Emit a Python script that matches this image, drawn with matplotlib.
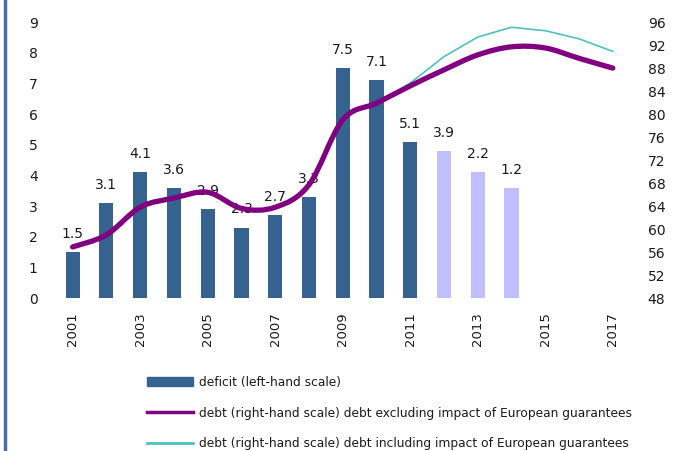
import matplotlib.pyplot as plt
import numpy as np
from matplotlib.path import Path
from matplotlib.patches import PathPatch
from matplotlib.lines import Line2D

# --- data ---
years = list(range(2001, 2018))
bar_years = list(range(2001, 2015))
# bar heights as drawn (left scale); the projected bars are drawn taller than their labels
bar_height = [1.5, 3.1, 4.1, 3.6, 2.9, 2.3, 2.7, 3.3, 7.5, 7.1, 5.1, 4.8, 4.1, 3.6]
deficit_label = [1.5, 3.1, 4.1, 3.6, 2.9, 2.3, 2.7, 3.3, 7.5, 7.1, 5.1, 3.9, 2.2, 1.2]
deficit_forecast_from = 2012   # bars from this year on are projections
debt_excl = [56.9, 59.0, 63.8, 65.4, 66.4, 63.6, 63.8, 67.7, 79.0, 81.9,
             84.9, 87.7, 90.3, 91.7, 91.5, 89.7, 88.0]
debt_incl_years = list(range(2010, 2018))
debt_incl = [81.9, 85.4, 90.0, 93.4, 95.1, 94.5, 93.1, 90.9]

left_ticks = list(range(0, 10))
right_ticks = list(range(48, 97, 4))

bar_dark = '#36628F'
bar_light = '#C0BEFF'
purple = '#800080'
teal = '#4CC2BE'
txt = '#1a1a1a'

fig = plt.figure(figsize=(6.8, 4.51), dpi=100)
ax = fig.add_axes([0.082, 0.339, 0.844, 0.612])
ax2 = ax.twinx()

# bars with value labels
colors = [bar_dark if y < deficit_forecast_from else bar_light for y in bar_years]
bars = ax.bar(bar_years, bar_height, width=0.42, color=colors, zorder=2)
for b, v in zip(bars, deficit_label):
    ax.annotate(f'{v:.1f}', (b.get_x() + b.get_width() / 2, b.get_height()),
                xytext=(0, 8), textcoords='offset points', ha='center',
                va='bottom', fontsize=10, color=txt, zorder=1)

# smoothed debt line (Bezier path through the data points)
x = np.array(years, dtype=float)
y = np.array(debt_excl, dtype=float)
verts = [(x[0], y[0])]
codes = [Path.MOVETO]
for i in range(len(x) - 1):
    p0 = np.array([x[max(i - 1, 0)], y[max(i - 1, 0)]])
    p1 = np.array([x[i], y[i]])
    p2 = np.array([x[i + 1], y[i + 1]])
    p3 = np.array([x[min(i + 2, len(x) - 1)], y[min(i + 2, len(x) - 1)]])
    c1 = p1 + (p2 - p0) / 6
    c2 = p2 - (p3 - p1) / 6
    verts += [tuple(c1), tuple(c2), tuple(p2)]
    codes += [Path.CURVE4] * 3
ax2.add_patch(PathPatch(Path(verts, codes), facecolor='none', edgecolor=purple,
                        lw=3.8, capstyle='round', zorder=3))
ax2.plot(debt_incl_years, debt_incl, color=teal, lw=1.2, zorder=2)

# axes styling
ax.set_xlim(2000.5, 2017.5)
ax.set_ylim(0, 9)
ax2.set_ylim(48, 96)
ax.set_yticks(left_ticks)
ax2.set_yticks(right_ticks)
ax.set_xticks(years[::2])
ax.set_xticklabels([str(y) for y in years[::2]], rotation=90, fontsize=9.5, color=txt)
ax.tick_params(axis='both', length=0)
ax.tick_params(axis='y', labelsize=10, labelcolor=txt, pad=13)
ax.tick_params(axis='x', pad=10)
ax2.tick_params(axis='y', length=0, labelsize=10, labelcolor=txt, pad=13)
for a in (ax, ax2):
    for s in a.spines.values():
        s.set_visible(False)

# legend below the plot
handles = [plt.Rectangle((0, 0), 1, 1, color=bar_dark),
           Line2D([], [], color=purple, lw=2.5),
           Line2D([], [], color=teal, lw=2)]
labels = ['deficit (left-hand scale)',
          'debt (right-hand scale) debt excluding impact of European guarantees',
          'debt (right-hand scale) debt including impact of European guarantees']
fig.legend(handles, labels, loc='upper left', bbox_to_anchor=(0.216, 0.166),
           frameon=False, fontsize=8.8, handlelength=3.8, handleheight=0.75,
           handletextpad=0.5, labelspacing=1.43, borderpad=0, borderaxespad=0,
           labelcolor=txt)

# left frame line
fig.add_artist(Line2D([0.008, 0.008], [0, 1], transform=fig.transFigure,
                      color='#4A6CA8', lw=2.5))

plt.savefig('out.png', dpi=100)
